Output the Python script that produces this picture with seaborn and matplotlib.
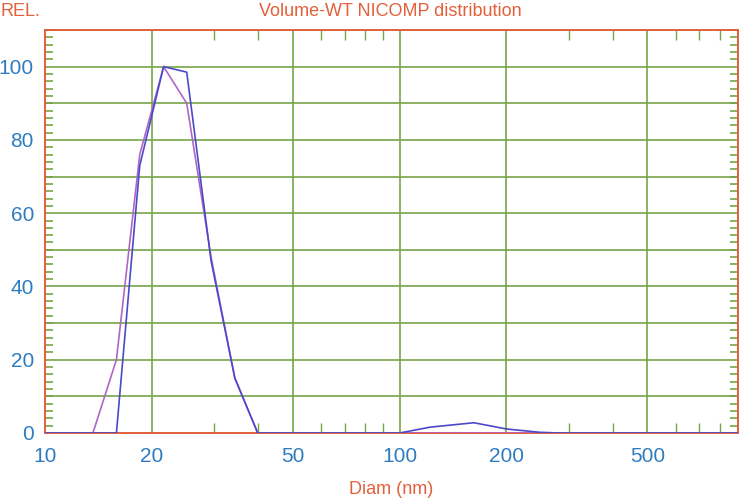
import numpy as np
import pandas as pd
import matplotlib
matplotlib.use("Agg")
import matplotlib.pyplot as plt
from matplotlib.ticker import FixedLocator, NullFormatter
import seaborn as sns

# data (diameter in nm, relative volume)
diam_blue = [10, 15.9, 18.5, 21.6, 25.1, 29.4, 34.3, 39.8, 100, 122, 162, 200, 248, 280, 900]
rel_blue = [0, 0, 73, 100, 98.5, 47, 15, 0, 0, 1.6, 2.8, 1.1, 0.2, 0, 0]

diam_mag = [10, 13.65, 15.9, 18.5, 21.6, 25.1, 29.4, 34.3, 39.8, 900]
rel_mag = [0, 0, 20, 76, 100, 90, 48, 15, 0, 0]

major_x = [10, 20, 50, 100, 200, 500]
minor_x = [30, 40, 60, 70, 80, 90, 300, 400, 600, 700, 800]
y_labels = [0, 20, 40, 60, 80, 100]

ORANGE = "#e2603a"
GREEN = "#76a448"
TICKBLUE = "#2f7cc0"
LINE_BLUE = "#4a4ac8"
LINE_MAG = "#b066c4"

sns.set_style("white")
plt.rcParams["font.family"] = ["Liberation Sans", "DejaVu Sans"]

df = pd.concat([
    pd.DataFrame({"diam": diam_mag, "rel": rel_mag, "run": "b"}),
    pd.DataFrame({"diam": diam_blue, "rel": rel_blue, "run": "a"}),
])

fig = plt.figure(figsize=(7.4, 5), dpi=100)
ax = fig.add_axes([45 / 740, 1 - 433 / 500, 693 / 740, 403 / 500])

sns.lineplot(data=df, x="diam", y="rel", hue="run", palette={"a": LINE_BLUE, "b": LINE_MAG},
             hue_order=["b", "a"], estimator=None, sort=False, legend=False,
             linewidth=1.2, ax=ax, zorder=4)

ax.set_xscale("log")
ax.set_xlim(10, 900)
ax.set_ylim(0, 110)

# grid
ax.xaxis.set_major_locator(FixedLocator(major_x))
ax.xaxis.set_minor_locator(FixedLocator(minor_x))
ax.xaxis.set_minor_formatter(NullFormatter())
ax.set_xticklabels([str(v) for v in major_x])
ax.yaxis.set_major_locator(FixedLocator(y_labels))
ax.yaxis.set_minor_locator(FixedLocator(np.arange(0, 111, 2)))
for v in major_x[1:]:
    ax.axvline(v, color=GREEN, lw=1.2, zorder=1)
for v in range(10, 110, 10):
    ax.axhline(v, color=GREEN, lw=1.2, zorder=1)

ax.tick_params(axis="both", which="major", direction="in", length=0, colors=GREEN,
               labelcolor=TICKBLUE, labelsize=15)
ax.tick_params(axis="x", which="major", pad=10)
ax.tick_params(axis="y", which="major", pad=8)
ax.tick_params(axis="y", which="minor", direction="in", length=6, width=1.2, color=GREEN,
               left=True, right=True)
ax.tick_params(axis="x", which="minor", direction="in", length=7, width=1.0, color=GREEN,
               top=True, bottom=True)

for s in ax.spines.values():
    s.set_visible(True)
    s.set_color(ORANGE)
    s.set_linewidth(1.4)

ax.set_xlabel("Diam (nm)", color=ORANGE, fontsize=13, labelpad=11)
ax.set_ylabel("")
fig.text(0.0, 1 - 12 / 500, "REL.", color=ORANGE, fontsize=13, va="center", ha="left")
fig.text(390 / 740, 1 - 12 / 500, "Volume-WT NICOMP distribution", color=ORANGE,
         fontsize=13, va="center", ha="center")

fig.savefig("out.png", dpi=100)
